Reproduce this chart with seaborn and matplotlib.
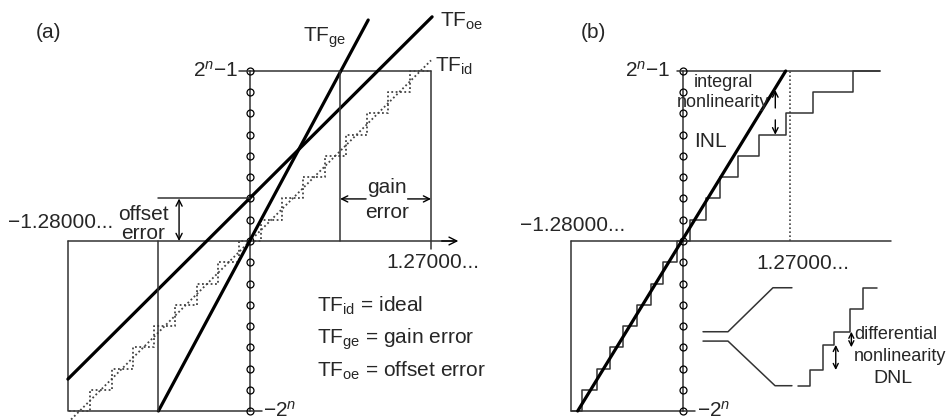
import matplotlib
matplotlib.use("Agg")
import matplotlib.pyplot as plt
import seaborn as sns

sns.set_theme(style="white")
plt.rcParams['font.family'] = ['Liberation Sans', 'DejaVu Sans']
plt.rcParams['mathtext.fontset'] = 'custom'
plt.rcParams['mathtext.rm'] = 'Liberation Sans'
plt.rcParams['mathtext.it'] = 'Liberation Sans:italic'
plt.rcParams['mathtext.bf'] = 'Liberation Sans:bold'

# output codes (LSB units), -2^n ... 2^n-1
codes = [-8, -7, -6, -5, -4, -3, -2, -1, 0, 1, 2, 3, 4, 5, 6, 7, 8]

# (a) ideal staircase, transitions at half an LSB
ideal_x = [-8.5, -7.5, -6.5, -5.5, -4.5, -3.5, -2.5, -1.5, -0.5,
           0.5, 1.5, 2.5, 3.5, 4.5, 5.5, 6.5, 7.5, 8.5]
tf_id_x = [-8.4, 8.5]
tf_id_y = [-8.4, 8.5]
tf_ge_x = [-4.3, 5.55]
tf_ge_y = [-8.0, 10.4]
tf_oe_x = [-8.55, 8.55]
tf_oe_y = [-6.5, 10.55]
offset_code = 2
ge_full_x = [-4.3, 4.23]      # where TF_ge reaches -2^n and 2^n-1
full_scale_a = [-8.55, 8.5]   # -1.28..., 1.27...

# (b) nonlinear converter: transition levels
nl_risers = [-7.8, -6.65, -5.6, -4.6, -3.55, -2.45, -1.55, -0.45,
             0.55, 1.8, 2.85, 4.2, 5.87, 7.92, 10.0, 13.05]
fit_x = [-8.1, 7.9]
fit_y = [-8.0, 8.0]
full_scale_b = [-8.6, 15.15]
fs_mark_b = 8.25
# magnified detail for DNL
dnl_x = [8.85, 9.77, 10.79, 11.62, 12.85, 13.87, 14.9]
dnl_y = [-6.81, -6.07, -4.89, -4.27, -3.2, -2.21, -2.21]
zoom_up_x = [1.54, 3.46, 6.92, 8.38]
zoom_up_y = [-4.27, -4.27, -2.2, -2.2]
zoom_lo_x = [1.54, 3.46, 7.08, 8.38]
zoom_lo_y = [-4.71, -4.71, -6.81, -6.81]

THIN = '#333333'
DOT = '#444444'
DOTS = (0, (1, 1.4))

fig = plt.figure(figsize=(9.5, 4.2), dpi=100)
# pixel layout: y origin at 241px, 21.25 px per code
ylim = ((241 - 420) / 21.25, 241 / 21.25)
ax1 = fig.add_axes([0, 0, 0.5, 1])
ax1.set_xlim((0 - 250) / 21.3, (475 - 250) / 21.3)
ax1.set_ylim(*ylim)
ax2 = fig.add_axes([0.5, 0, 0.5, 1])
ax2.set_xlim((475 - 683) / 13.0, (950 - 683) / 13.0)
ax2.set_ylim(*ylim)
for ax in (ax1, ax2):
    ax.set_axis_off()
    ax.patch.set_alpha(0)


def arrow(ax, p0, p1, style='<->', ms=11):
    ax.annotate('', xy=p1, xytext=p0,
                arrowprops=dict(arrowstyle=style, lw=1.0, color='black',
                                shrinkA=0, shrinkB=0, mutation_scale=ms))


def frame(ax, left, right_top, axis_end):
    lo, hi = codes[0], codes[-1]
    ax.plot([left, left, 0], [0, lo, lo], color=THIN, lw=1.1)
    ax.plot([0, right_top], [hi, hi], color=THIN, lw=1.1)
    ax.plot([left, axis_end], [0, 0], color=THIN, lw=1.1)
    ax.plot([0] * len(codes), codes, color=THIN, lw=1.1)
    ax.plot([0] * len(codes), codes, ls='none', marker='o', ms=5,
            mfc='none', mec='black', mew=0.9)
    ax.plot([-0.5, 0], [hi, hi], color=THIN, lw=1.1)
    ax.plot([0, 0.55 * (21.3 / 13.0 if ax is ax2 else 1)], [lo, lo],
            color=THIN, lw=1.1)


# ---------------- panel (a) ----------------
frame(ax1, full_scale_a[0], full_scale_a[1], 9.6)
ax1.plot([full_scale_a[1]] * 2, [codes[-1], -0.4], color=THIN, lw=1.1)
arrow(ax1, (9.0, 0), (9.78, 0), style='->', ms=14)

sns.lineplot(x=ideal_x, y=codes + [codes[-1]], ax=ax1, color=DOT, lw=1.3,
             ls=DOTS, drawstyle='steps-post', sort=False, estimator=None)
sns.lineplot(x=tf_id_x, y=tf_id_y, ax=ax1, color=DOT, lw=1.3,
             ls=DOTS, sort=False, estimator=None)
sns.lineplot(x=tf_ge_x, y=tf_ge_y, ax=ax1, color='black', lw=2.3,
             sort=False, estimator=None)
sns.lineplot(x=tf_oe_x, y=tf_oe_y, ax=ax1, color='black', lw=2.3,
             sort=False, estimator=None)

# gain error markers
ax1.plot([ge_full_x[0]] * 2, [0, codes[0]], color=THIN, lw=1.1)
ax1.plot([ge_full_x[1]] * 2, [0, codes[-1]], color=THIN, lw=1.1)
arrow(ax1, (5.45, 1.98), (ge_full_x[1], 1.98), style='->')
arrow(ax1, (7.4, 1.98), (full_scale_a[1], 1.98), style='->')
ax1.text(6.42, 2.24, 'gain', ha='center', va='baseline', fontsize=15)
ax1.text(6.42, 1.07, 'error', ha='center', va='baseline', fontsize=15)

# offset error markers
ax1.plot([ge_full_x[0], 0], [offset_code] * 2, color=THIN, lw=1.1)
arrow(ax1, (-3.33, offset_code), (-3.33, 0))
ax1.text(-5.02, 0.99, 'offset', ha='center', va='baseline', fontsize=15)
ax1.text(-5.02, 0.08, 'error', ha='center', va='baseline', fontsize=15)

ax1.text(-9.44, 9.79, '(a)', ha='center', va='center', fontsize=15)
ax1.text(2.49, 9.38, r'TF$_{\mathrm{ge}}$', ha='left', va='baseline', fontsize=15)
ax1.text(8.92, 10.08, r'TF$_{\mathrm{oe}}$', ha='left', va='baseline', fontsize=15)
ax1.text(8.69, 7.97, r'TF$_{\mathrm{id}}$', ha='left', va='baseline', fontsize=15)
ax1.text(-0.55, 8, '2$^{n}$\u22121', ha='right', va='center', fontsize=15)
ax1.text(0.6, -8, '\u22122$^{n}$', ha='left', va='center', fontsize=15)
ax1.text(-8.87, 0.85, '\u22121.28000...', ha='center', va='center', fontsize=15)
ax1.text(8.6, -1.03, '1.27000...', ha='center', va='center', fontsize=15)
ax1.text(3.15, -3.33, r'TF$_{\mathrm{id}}$ = ideal', ha='left', va='baseline', fontsize=15)
ax1.text(3.15, -4.81, r'TF$_{\mathrm{ge}}$ = gain error', ha='left', va='baseline', fontsize=15)
ax1.text(3.15, -6.39, r'TF$_{\mathrm{oe}}$ = offset error', ha='left', va='baseline', fontsize=15)

# ---------------- panel (b) ----------------
frame(ax2, full_scale_b[0], full_scale_b[1], 16.0)
ax2.plot([fs_mark_b] * 2, [0, codes[-1]], color=DOT, lw=1.2, ls=DOTS)

sns.lineplot(x=[full_scale_b[0]] + nl_risers + [full_scale_b[1]],
             y=codes + [codes[-1]], ax=ax2, color=THIN, lw=1.1,
             drawstyle='steps-post', sort=False, estimator=None)
sns.lineplot(x=fit_x, y=fit_y, ax=ax2, color='black', lw=2.3,
             sort=False, estimator=None)

# INL
arrow(ax2, (7.1, 6.26), (7.1, 7.1), style='->', ms=10)
arrow(ax2, (7.1, 5.7), (7.1, 5.0), style='->', ms=10)
ax2.text(3.1, 7.48, 'integral', ha='center', va='center', fontsize=13)
ax2.text(3.1, 6.54, 'nonlinearity', ha='center', va='center', fontsize=13)
ax2.text(2.08, 4.66, 'INL', ha='center', va='center', fontsize=15)

# DNL detail
sns.lineplot(x=dnl_x, y=dnl_y, ax=ax2, color=THIN, lw=1.1,
             drawstyle='steps-post', sort=False, estimator=None)
ax2.plot(zoom_up_x, zoom_up_y, color=THIN, lw=1.1)
ax2.plot(zoom_lo_x, zoom_lo_y, color=THIN, lw=1.1)
arrow(ax2, (11.75, -4.89), (11.75, -6.07), ms=9)
arrow(ax2, (12.95, -4.27), (12.95, -5.0), ms=9)
ax2.text(16.35, -4.42, 'differential', ha='center', va='center', fontsize=13)
ax2.text(16.7, -5.44, 'nonlinearity', ha='center', va='center', fontsize=13)
ax2.text(16.15, -6.45, 'DNL', ha='center', va='center', fontsize=14)

ax2.text(-6.88, 9.79, '(b)', ha='center', va='center', fontsize=15)
ax2.text(-0.95, 8, '2$^{n}$\u22121', ha='right', va='center', fontsize=15)
ax2.text(1.05, -8, '\u22122$^{n}$', ha='left', va='center', fontsize=15)
ax2.text(-8.5, 0.75, '\u22121.28000...', ha='center', va='center', fontsize=15)
ax2.text(9.19, -1.04, '1.27000...', ha='center', va='center', fontsize=15)

fig.savefig('out.png', dpi=100)
